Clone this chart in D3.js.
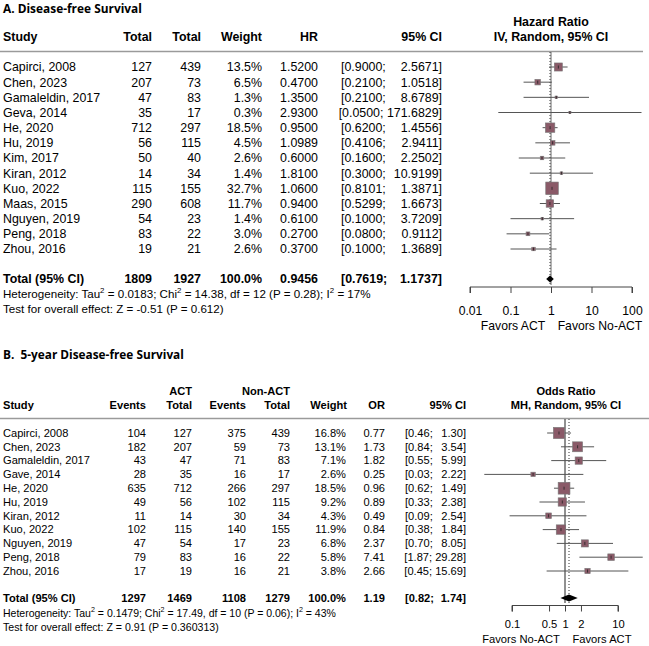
<!DOCTYPE html>
<html><head><meta charset="utf-8">
<script src="https://cdn.jsdelivr.net/npm/d3@7"></script>
<style>
html,body{margin:0;padding:0;background:#fff;}
svg text{font-family:"Liberation Sans",Arial,sans-serif;fill:#000;white-space:pre;}
.title{font-family:"Open Sans","Liberation Sans",sans-serif;font-weight:700;}
</style></head>
<body>
<svg id="chart" width="649" height="646"></svg>
<script>
// ---------- Panel A data ----------
const studiesA = ["Capirci, 2008","Chen, 2023","Gamaleldin, 2017","Geva, 2014","He, 2020","Hu, 2019","Kim, 2017","Kiran, 2012","Kuo, 2022","Maas, 2015","Nguyen, 2019","Peng, 2018","Zhou, 2016"];
const totalActA = [127,207,47,35,712,56,50,14,115,290,54,83,19];
const totalNonA = [439,73,83,17,297,115,40,34,155,608,23,22,21];
const weightA = [13.5,6.5,1.3,0.3,18.5,4.5,2.6,1.4,32.7,11.7,1.4,3.0,2.6];
const hrA = ["1.5200","0.4700","1.3500","2.9300","0.9500","1.0989","0.6000","1.8100","1.0600","0.9400","0.6100","0.2700","0.3700"];
const loA = ["0.9000","0.2100","0.2100","0.0500","0.6200","0.4106","0.1600","0.3000","0.8101","0.5299","0.1000","0.0800","0.1000"];
const hiA = ["2.5671","1.0518","8.6789","171.6829","1.4556","2.9411","2.2502","10.9199","1.3871","1.6673","3.7209","0.9112","1.3689"];
const totalA = {act:"1809", non:"1927", weight:"100.0%", est:"0.9456", lo:"0.7619", hi:"1.1737"};
const ticksA = [0.01,0.1,1,10,100];
const tickLabelsA = ["0.01","0.1","1","10","100"];

// ---------- Panel B data ----------
const studiesB = ["Capirci, 2008","Chen, 2023","Gamaleldin, 2017","Gave, 2014","He, 2020","Hu, 2019","Kiran, 2012","Kuo, 2022","Nguyen, 2019","Peng, 2018","Zhou, 2016"];
const eventsActB = [104,182,43,28,635,49,11,102,47,79,17];
const totalActB = [127,207,47,35,712,56,14,115,54,83,19];
const eventsNonB = [375,59,71,16,266,102,30,140,17,16,16];
const totalNonB = [439,73,83,17,297,115,34,155,23,22,21];
const weightB = [16.8,13.1,7.1,2.6,18.5,9.2,4.3,11.9,6.8,5.8,3.8];
const orB = ["0.77","1.73","1.82","0.25","0.96","0.89","0.49","0.84","2.37","7.41","2.66"];
const loB = ["0.46","0.84","0.55","0.03","0.62","0.33","0.09","0.38","0.70","1.87","0.45"];
const hiB = ["1.30","3.54","5.99","2.22","1.49","2.38","2.54","1.84","8.05","29.28","15.69"];
const totalB = {evAct:"1297", totAct:"1469", evNon:"1108", totNon:"1279", weight:"100.0%", est:"1.19", lo:"0.82", hi:"1.74"};
const ticksB = [0.1,0.5,1,2,10];
const tickLabelsB = ["0.1","0.5","1","2","10"];

const svg = d3.select("#chart");
svg.append("rect").attr("width",649).attr("height",646).attr("fill","#fff");

const BOX = "#8a5a68", BOXSTROKE = "#7a7a7a", CILINE = "#555";

function txt(g, x, y, s, o={}) {
  return g.append("text").attr("x",x).attr("y",y).attr("dy","0.35em")
    .attr("text-anchor", o.anchor||"start")
    .attr("font-size", o.size||12)
    .attr("font-weight", o.bold?700:400)
    .attr("class", o.cls||null)
    .text(s);
}
function fitWidth(t, target) {
  const base = +t.attr("font-size");
  const w = t.node().getComputedTextLength();
  if (w > 0) t.attr("font-size", base * target / w);
}
function ciText(g, xStart, xEnd, y, lo, hi, o) {
  const t1 = txt(g, 0, y, "[" + lo + ";", o);
  const t2 = txt(g, xEnd, y, hi + "]", Object.assign({}, o, {anchor:"end"}));
  const w1 = t1.node().getComputedTextLength();
  const w2 = t2.node().getComputedTextLength();
  const sp = (o.size||12) * 0.278;
  const start = Math.min(xStart, xEnd - w2 - sp - w1);
  t1.attr("x", start);
}
function hetText(g, x, y, parts, size) {
  const t = g.append("text").attr("x",x).attr("y",y).attr("dy","0.35em").attr("font-size",size);
  const rise = size*0.4;
  parts.forEach(p => {
    if (p.sup) {
      t.append("tspan").attr("dy",-rise).attr("font-size",size*0.68).text(p.sup);
      t.append("tspan").attr("dy",rise).attr("font-size",size).text(p.t);
    } else t.append("tspan").text(p.t);
  });
  return t;
}

// ================= PANEL A =================
const gA = svg.append("g");
const fA = 12.4;
fitWidth(txt(gA, 3, 9, "A. Disease-free Survival", {size:14, bold:true, cls:"title"}), 139);
const hdrY = 37;
txt(gA, 3, hdrY, "Study", {size:fA, bold:true});
txt(gA, 152, hdrY, "Total", {size:fA, bold:true, anchor:"end"});
txt(gA, 201, hdrY, "Total", {size:fA, bold:true, anchor:"end"});
txt(gA, 262, hdrY, "Weight", {size:fA, bold:true, anchor:"end"});
txt(gA, 318, hdrY, "HR", {size:fA, bold:true, anchor:"end"});
txt(gA, 442, hdrY, "95% CI", {size:fA, bold:true, anchor:"end"});
txt(gA, 551, 22, "Hazard Ratio", {size:fA, bold:true, anchor:"middle"});
txt(gA, 551, hdrY, "IV, Random, 95% CI", {size:fA, bold:true, anchor:"middle"});
gA.append("line").attr("x1",0).attr("x2",643).attr("y1",51.5).attr("y2",51.5).attr("stroke","#9a9a9a").attr("stroke-width",1.6);

const yA = d3.scaleLinear().domain([0, studiesA.length-1]).range([67, 249]);
const xA = d3.scaleLog().domain([0.01,100]).range([470,632]);

studiesA.forEach((s,i) => {
  const y = yA(i);
  txt(gA, 3, y, s, {size:fA});
  txt(gA, 152, y, totalActA[i], {size:fA, anchor:"end"});
  txt(gA, 201, y, totalNonA[i], {size:fA, anchor:"end"});
  txt(gA, 262, y, weightA[i].toFixed(1)+"%", {size:fA, anchor:"end"});
  txt(gA, 318, y, hrA[i], {size:fA, anchor:"end"});
  ciText(gA, 341, 442, y, loA[i], hiA[i], {size:fA});
});
const totYA = 279;
txt(gA, 3, totYA, "Total (95% CI)", {size:fA, bold:true});
txt(gA, 152, totYA, totalA.act, {size:fA, bold:true, anchor:"end"});
txt(gA, 201, totYA, totalA.non, {size:fA, bold:true, anchor:"end"});
txt(gA, 262, totYA, totalA.weight, {size:fA, bold:true, anchor:"end"});
txt(gA, 318, totYA, totalA.est, {size:fA, bold:true, anchor:"end"});
ciText(gA, 341, 442, totYA, totalA.lo, totalA.hi, {size:fA, bold:true});
hetText(gA, 3, 294, [{t:"Heterogeneity: Tau"},{sup:"2", t:" = 0.0183; Chi"},{sup:"2", t:" = 14.38, df = 12 (P = 0.28); I"},{sup:"2", t:" = 17%"}], 11.6);
txt(gA, 3, 309, "Test for overall effect: Z = -0.51 (P = 0.612)", {size:11.6});

// reference lines
gA.append("line").attr("x1",xA(1)).attr("x2",xA(1)).attr("y1",52).attr("y2",285).attr("stroke","#666").attr("stroke-width",1);
gA.append("line").attr("x1",xA(+totalA.est)).attr("x2",xA(+totalA.est)).attr("y1",52).attr("y2",285).attr("stroke","#333").attr("stroke-width",1).attr("stroke-dasharray","1,2");

function drawStudies(g, x, y, est, lo, hi, w, k, minS) {
  est.forEach((e,i) => {
    const yy = y(i);
    g.append("line").attr("x1",x(+lo[i])).attr("x2",x(+hi[i])).attr("y1",yy).attr("y2",yy).attr("stroke",CILINE).attr("stroke-width",1);
    const s = Math.max(minS, k*Math.sqrt(w[i]));
    g.append("rect").attr("x",x(+e)-s/2).attr("y",yy-s/2).attr("width",s).attr("height",s)
      .attr("fill",BOX).attr("stroke",BOXSTROKE).attr("stroke-width",0.6);
    g.append("line").attr("x1",x(+e)).attr("x2",x(+e)).attr("y1",yy-1.5).attr("y2",yy+1.5).attr("stroke","#222").attr("stroke-width",0.8);
  });
}
drawStudies(gA, xA, yA, hrA, loA, hiA, weightA, 2.2, 2.2);

function diamond(g, x, y, lo, est, hi, h) {
  const p = [[x(lo),y],[x(est),y-h],[x(hi),y],[x(est),y+h]];
  g.append("path").attr("d","M"+p.map(d=>d.join(",")).join("L")+"Z").attr("fill","#000");
}
diamond(gA, xA, totYA, +totalA.lo, +totalA.est, +totalA.hi, 3.5);

const axA = gA.append("g").attr("transform","translate(0,287)")
  .call(d3.axisBottom(xA).tickValues(ticksA).tickFormat((d,i)=>tickLabelsA[i]).tickSize(6).tickPadding(13));
axA.select(".domain").attr("stroke","#444").attr("d", `M${xA(0.01)},6V0H${xA(100)}V6`);
axA.selectAll(".tick line").attr("stroke","#444");
axA.selectAll(".tick text").attr("font-size",12.2).attr("font-family","Liberation Sans, Arial, sans-serif").attr("fill","#000");
txt(gA, 513, 325.5, "Favors ACT", {size:12.2, anchor:"middle"});
txt(gA, 600, 325.5, "Favors No-ACT", {size:12.2, anchor:"middle"});

// ================= PANEL B =================
const gB = svg.append("g");
const fB = 11.1;
fitWidth(txt(gB, 3, 355, "B.  5-year Disease-free Survival", {size:13, bold:true, cls:"title"}), 181);
txt(gB, 192, 391, "ACT", {size:fB, bold:true, anchor:"end"});
txt(gB, 290, 391, "Non-ACT", {size:fB, bold:true, anchor:"end"});
const hB = 405;
txt(gB, 3, hB, "Study", {size:fB, bold:true});
txt(gB, 146, hB, "Events", {size:fB, bold:true, anchor:"end"});
txt(gB, 192, hB, "Total", {size:fB, bold:true, anchor:"end"});
txt(gB, 246, hB, "Events", {size:fB, bold:true, anchor:"end"});
txt(gB, 290, hB, "Total", {size:fB, bold:true, anchor:"end"});
txt(gB, 347, hB, "Weight", {size:fB, bold:true, anchor:"end"});
txt(gB, 385, hB, "OR", {size:fB, bold:true, anchor:"end"});
txt(gB, 466, hB, "95% CI", {size:fB, bold:true, anchor:"end"});
txt(gB, 566, 391, "Odds Ratio", {size:fB, bold:true, anchor:"middle"});
txt(gB, 566, hB, "MH, Random, 95% CI", {size:fB, bold:true, anchor:"middle"});
gB.append("line").attr("x1",0).attr("x2",649).attr("y1",418.5).attr("y2",418.5).attr("stroke","#9a9a9a").attr("stroke-width",1.6);

const yB = d3.scaleLinear().domain([0, studiesB.length-1]).range([433, 571]);
const xB = d3.scaleLog().domain([0.1,10]).range([512,618]);

studiesB.forEach((s,i) => {
  const y = yB(i);
  txt(gB, 3, y, s, {size:fB});
  txt(gB, 146, y, eventsActB[i], {size:fB, anchor:"end"});
  txt(gB, 192, y, totalActB[i], {size:fB, anchor:"end"});
  txt(gB, 246, y, eventsNonB[i], {size:fB, anchor:"end"});
  txt(gB, 290, y, totalNonB[i], {size:fB, anchor:"end"});
  txt(gB, 346, y, weightB[i].toFixed(1)+"%", {size:fB, anchor:"end"});
  txt(gB, 385, y, orB[i], {size:fB, anchor:"end"});
  ciText(gB, 405, 466, y, loB[i], hiB[i], {size:fB});
});
const totYB = 598;
txt(gB, 3, totYB, "Total (95% CI)", {size:fB, bold:true});
txt(gB, 146, totYB, totalB.evAct, {size:fB, bold:true, anchor:"end"});
txt(gB, 192, totYB, totalB.totAct, {size:fB, bold:true, anchor:"end"});
txt(gB, 246, totYB, totalB.evNon, {size:fB, bold:true, anchor:"end"});
txt(gB, 290, totYB, totalB.totNon, {size:fB, bold:true, anchor:"end"});
txt(gB, 346, totYB, totalB.weight, {size:fB, bold:true, anchor:"end"});
txt(gB, 385, totYB, totalB.est, {size:fB, bold:true, anchor:"end"});
ciText(gB, 405, 466, totYB, totalB.lo, totalB.hi, {size:fB, bold:true});
hetText(gB, 3, 613, [{t:"Heterogeneity: Tau"},{sup:"2", t:" = 0.1479; Chi"},{sup:"2", t:" = 17.49, df = 10 (P = 0.06); I"},{sup:"2", t:" = 43%"}], 10.5);
txt(gB, 3, 627, "Test for overall effect: Z = 0.91 (P = 0.360313)", {size:10.6});

gB.append("line").attr("x1",xB(1)).attr("x2",xB(1)).attr("y1",419).attr("y2",603).attr("stroke","#222").attr("stroke-width",1);
gB.append("line").attr("x1",xB(+totalB.est)).attr("x2",xB(+totalB.est)).attr("y1",419).attr("y2",603).attr("stroke","#333").attr("stroke-width",1).attr("stroke-dasharray","1,2");

drawStudies(gB, xB, yB, orB, loB, hiB, weightB, 2.75, 2.5);
diamond(gB, xB, totYB, +totalB.lo, +totalB.est, +totalB.hi, 3.5);

const axB = gB.append("g").attr("transform","translate(0,605.5)")
  .call(d3.axisBottom(xB).tickValues(ticksB).tickFormat((d,i)=>tickLabelsB[i]).tickSize(6).tickPadding(9));
axB.select(".domain").attr("stroke","#444").attr("d", `M${xB(0.1)},6V0H${xB(10)}V6`);
axB.selectAll(".tick line").attr("stroke","#444");
axB.selectAll(".tick text").attr("font-size",11.2).attr("font-family","Liberation Sans, Arial, sans-serif").attr("fill","#000");
txt(gB, 521, 639.5, "Favors No-ACT", {size:11.2, anchor:"middle"});
txt(gB, 602, 639.5, "Favors ACT", {size:11.2, anchor:"middle"});
</script>
</body></html>
